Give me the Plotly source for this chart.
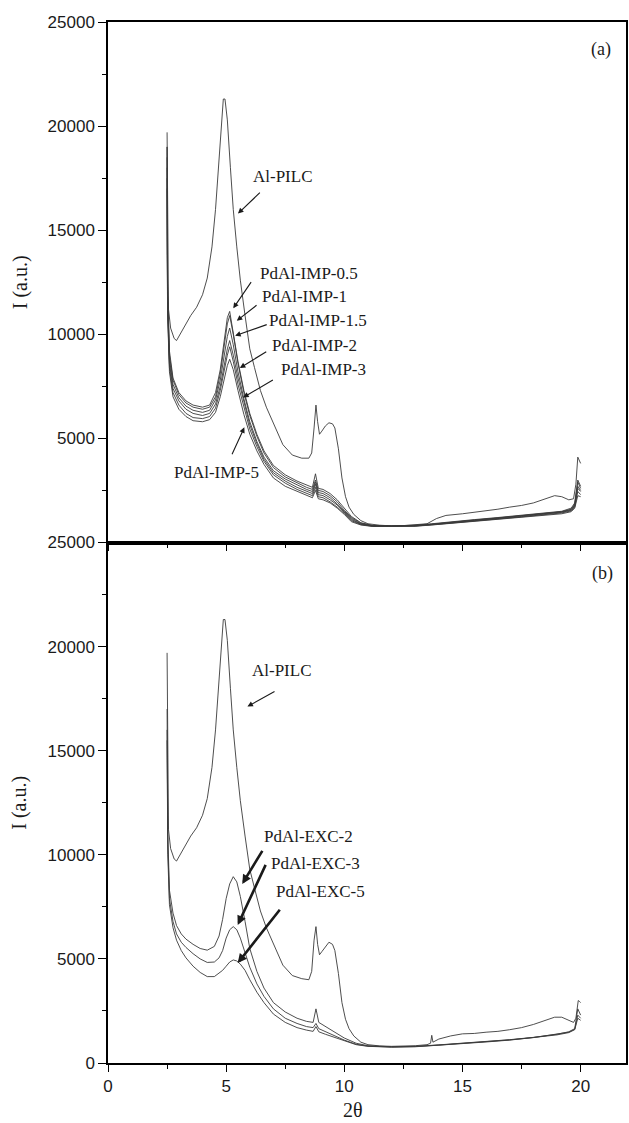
import plotly.graph_objects as go

# ---------------- data ----------------
# top panel (a)
x_pilc_a = [2.5, 2.52, 2.56, 2.65, 2.8, 2.9, 3.0, 3.25, 3.5, 3.75, 4.0, 4.2, 4.4, 4.55, 4.68, 4.8, 4.88, 4.95,
            5.05, 5.18, 5.3, 5.45, 5.6, 5.8, 6.0, 6.2, 6.45, 6.7, 7.0, 7.4, 7.8, 8.2, 8.5, 8.62, 8.72, 8.8,
            8.87, 8.95, 9.05, 9.2, 9.35, 9.5, 9.6, 9.75, 9.9, 10.05, 10.2, 10.4, 10.7, 11.0, 11.5, 12.0,
            12.5, 13.0, 13.5, 13.9, 14.3, 15.0, 15.5, 16.0, 16.5, 17.0, 17.5, 18.0, 18.5, 18.9, 19.2, 19.5,
            19.7, 19.8, 19.88, 19.94, 20.0]
pilc_a = [19700, 14000, 11200, 10300, 9800, 9700, 9900, 10350, 10900, 11300, 11900, 12700, 14200, 16000,
          18200, 20300, 21300, 21300, 20300, 18000, 16000, 14200, 12600, 10900, 9300, 8400, 7300, 6500,
          5750, 4700, 4200, 4050, 4050, 4300, 5500, 6600, 5800, 5200, 5350, 5600, 5750, 5700, 5500, 4500,
          3100, 2200, 1700, 1350, 1050, 900, 830, 800, 810, 840, 900, 1150, 1300, 1380, 1450, 1520, 1600,
          1700, 1780, 1900, 2100, 2250, 2200, 2050, 2100, 2800, 4100, 3900, 3800]

x_imp = [2.5, 2.52, 2.6, 2.75, 3.0, 3.3, 3.6, 4.0, 4.3, 4.55, 4.75, 4.9, 5.05, 5.15, 5.3, 5.5, 5.75, 6.0,
         6.3, 6.6, 7.0, 7.5, 8.0, 8.4, 8.65, 8.78, 8.9, 9.1, 9.4, 9.7, 10.0, 10.3, 10.7, 11.2, 12.0, 13.0,
         13.7, 14.5, 15.5, 16.5, 17.5, 18.5, 19.2, 19.6, 19.75, 19.88, 20.0]
imp_05 = [19000, 12500, 9200, 7900, 7200, 6800, 6600, 6500, 6600, 7200, 8300, 9500, 10800, 11100, 10100,
          8700, 7300, 6200, 5200, 4400, 3700, 3250, 2950, 2750, 2650, 3300, 2600, 2550, 2350, 2050, 1650,
          1250, 950, 820, 800, 830, 900, 1000, 1100, 1200, 1300, 1400, 1500, 1650, 1900, 3000, 2700]
imp_1 = [19000, 12000, 9000, 7800, 7100, 6700, 6500, 6400, 6500, 7000, 8100, 9300, 10500, 10900, 10000,
         8600, 7200, 6100, 5100, 4300, 3600, 3150, 2850, 2650, 2550, 3000, 2500, 2450, 2250, 1950, 1550,
         1200, 930, 810, 790, 820, 880, 980, 1080, 1180, 1280, 1380, 1480, 1600, 1850, 2900, 2600]
imp_15 = [18500, 11800, 8800, 7600, 6950, 6550, 6350, 6250, 6350, 6850, 7800, 8900, 9900, 10300, 9500,
          8200, 6900, 5800, 4850, 4100, 3450, 3050, 2750, 2550, 2450, 2900, 2400, 2350, 2150, 1850, 1500,
          1150, 900, 800, 780, 810, 870, 970, 1070, 1170, 1270, 1370, 1470, 1580, 1800, 2700, 2500]
imp_2 = [18000, 11500, 8600, 7400, 6800, 6400, 6200, 6100, 6200, 6650, 7500, 8500, 9300, 9700, 9000,
         7900, 6700, 5650, 4750, 4000, 3350, 2950, 2650, 2450, 2350, 2800, 2300, 2250, 2050, 1800, 1450,
         1100, 880, 790, 780, 800, 860, 950, 1050, 1150, 1250, 1350, 1450, 1550, 1750, 2600, 2450]
imp_3 = [17500, 11200, 8400, 7200, 6600, 6200, 6000, 5950, 6050, 6450, 7300, 8200, 9000, 9400, 8700,
         7600, 6450, 5450, 4600, 3900, 3250, 2850, 2550, 2350, 2250, 2650, 2200, 2150, 1950, 1700, 1400,
         1050, 860, 780, 770, 790, 850, 940, 1030, 1130, 1230, 1330, 1420, 1520, 1700, 2450, 2300]
imp_5 = [17000, 11000, 8200, 7000, 6400, 6050, 5850, 5800, 5900, 6250, 7000, 7800, 8500, 8800, 8300,
         7300, 6150, 5200, 4400, 3750, 3100, 2700, 2450, 2250, 2150, 2500, 2100, 2050, 1900, 1650, 1350,
         1000, 840, 770, 760, 780, 840, 920, 1000, 1100, 1200, 1300, 1380, 1480, 1650, 2250, 2200]

# bottom panel (b)
x_pilc_b = [2.5, 2.52, 2.56, 2.65, 2.8, 2.9, 3.0, 3.25, 3.5, 3.75, 4.0, 4.2, 4.4, 4.55, 4.68, 4.8, 4.88, 4.95,
            5.05, 5.18, 5.3, 5.45, 5.6, 5.8, 6.0, 6.2, 6.45, 6.7, 7.0, 7.4, 7.8, 8.2, 8.5, 8.62, 8.72, 8.8,
            8.87, 8.95, 9.05, 9.2, 9.35, 9.5, 9.6, 9.75, 9.9, 10.05, 10.2, 10.4, 10.7, 11.0, 11.5, 12.0,
            12.5, 13.0, 13.5, 13.65, 13.7, 13.75, 14.0, 14.5, 15.0, 15.5, 16.0, 16.5, 17.0, 17.5, 18.0,
            18.5, 18.9, 19.2, 19.5, 19.7, 19.8, 19.9, 19.96, 20.0]
pilc_b = [19700, 14000, 11200, 10300, 9800, 9700, 9900, 10350, 10900, 11300, 11900, 12700, 14200, 16000,
          18200, 20300, 21300, 21300, 20300, 18000, 16000, 14200, 12600, 10900, 9300, 8400, 7300, 6500,
          5750, 4700, 4200, 4050, 4000, 4400, 5900, 6550, 5700, 5200, 5350, 5600, 5800, 5700, 5400, 4300,
          2900, 2100, 1650, 1300, 1000, 880, 820, 800, 810, 830, 880, 950, 1330, 1000, 1150, 1300, 1400,
          1420, 1480, 1520, 1600, 1700, 1850, 2050, 2200, 2200, 2050, 1950, 2150, 3000, 2950, 2900]

x_exc = [2.5, 2.53, 2.6, 2.75, 2.9, 3.1, 3.3, 3.6, 3.9, 4.2, 4.5, 4.7, 4.85, 5.0, 5.15, 5.3, 5.45, 5.6, 5.8,
         6.0, 6.3, 6.6, 7.0, 7.5, 8.0, 8.4, 8.68, 8.8, 8.92, 9.2, 9.6, 10.0, 10.5, 11.0, 12.0, 13.0, 14.0,
         15.0, 16.0, 17.0, 18.0, 19.0, 19.5, 19.75, 19.88, 20.0]
exc_2 = [17000, 11000, 8300, 7200, 6600, 6200, 5950, 5700, 5500, 5420, 5600, 6100, 6900, 7900, 8600, 8950,
         8700, 8000, 6800, 5500, 4400, 3600, 2900, 2450, 2150, 2000, 1950, 2600, 1950, 1750, 1450, 1200,
         950, 830, 780, 800, 870, 950, 1030, 1120, 1230, 1380, 1500, 1650, 2600, 2300]
exc_3 = [16000, 10500, 7900, 6800, 6200, 5800, 5550, 5250, 5000, 4830, 4850, 5050, 5400, 6000, 6400, 6550,
         6400, 6000, 5300, 4600, 3800, 3200, 2600, 2150, 1900, 1750, 1700, 1900, 1650, 1500, 1300, 1100,
         900, 810, 770, 790, 860, 940, 1020, 1110, 1220, 1370, 1480, 1620, 2300, 2150]
exc_5 = [15500, 10000, 7600, 6500, 5900, 5400, 5050, 4650, 4350, 4150, 4150, 4300, 4450, 4650, 4850, 4950,
         4900, 4750, 4450, 4000, 3400, 2900, 2350, 1950, 1700, 1580, 1520, 1750, 1500, 1380, 1220, 1050,
         880, 800, 760, 780, 850, 930, 1010, 1100, 1210, 1350, 1460, 1600, 2150, 2050]

y_ticks = [0, 5000, 10000, 15000, 20000, 25000]
y_ticktext_top = ["", "5000", "10000", "15000", "20000", "25000"]
y_ticktext_bottom = ["0", "5000", "10000", "15000", "20000", "25000"]
x_ticks = [0, 5, 10, 15, 20]
x_ticktext = ["0", "5", "10", "15", "20"]

for xs, ys in [(x_pilc_a, pilc_a), (x_pilc_b, pilc_b)] + [(x_imp, s) for s in (imp_05, imp_1, imp_15, imp_2, imp_3, imp_5)] \
        + [(x_exc, s) for s in (exc_2, exc_3, exc_5)]:
    assert len(xs) == len(ys), (len(xs), len(ys))

# ---------------- figure ----------------
LINE = dict(color="#3a3a3a", width=0.9)
fig = go.Figure()
for name, xs, ys in [("Al-PILC", x_pilc_a, pilc_a), ("PdAl-IMP-0.5", x_imp, imp_05), ("PdAl-IMP-1", x_imp, imp_1),
                     ("PdAl-IMP-1.5", x_imp, imp_15), ("PdAl-IMP-2", x_imp, imp_2), ("PdAl-IMP-3", x_imp, imp_3),
                     ("PdAl-IMP-5", x_imp, imp_5)]:
    fig.add_trace(go.Scatter(x=xs, y=ys, mode="lines", line=LINE, name=name, xaxis="x", yaxis="y"))
for name, xs, ys in [("Al-PILC", x_pilc_b, pilc_b), ("PdAl-EXC-2", x_exc, exc_2), ("PdAl-EXC-3", x_exc, exc_3),
                     ("PdAl-EXC-5", x_exc, exc_5)]:
    fig.add_trace(go.Scatter(x=xs, y=ys, mode="lines", line=LINE, name=name, xaxis="x2", yaxis="y2"))

SERIF = "Liberation Serif, Times New Roman, serif"
SANS = "Liberation Sans, Arial, sans-serif"

annotations = []

def label(text, x, y, ax_id, size=17):
    annotations.append(dict(text=text, x=x, y=y, xref="x" + ax_id, yref="y" + ax_id, showarrow=False,
                            font=dict(family=SERIF, size=size, color="#1a1a1a"), xanchor="center", yanchor="middle"))

def arrow(x0, y0, x1, y1, ax_id, width=1.1, size=1.0):
    annotations.append(dict(text="", x=x1, y=y1, ax=x0, ay=y0, xref="x" + ax_id, yref="y" + ax_id,
                            axref="x" + ax_id, ayref="y" + ax_id, showarrow=True, arrowhead=2,
                            arrowsize=size, arrowwidth=width, arrowcolor="#1a1a1a", standoff=0, startstandoff=0))

# top panel labels
label("Al-PILC", 7.4, 17600, "")
arrow(6.49, 16870, 5.5, 15800, "")
label("PdAl-IMP-0.5", 8.5, 12900, "")
arrow(6.1, 12580, 5.3, 11250, "")
label("PdAl-IMP-1", 8.3, 11800, "")
arrow(6.35, 11450, 5.45, 10650, "")
label("PdAl-IMP-1.5", 8.9, 10680, "")
arrow(6.78, 10490, 5.38, 9930, "")
label("PdAl-IMP-2", 8.75, 9450, "")
arrow(6.76, 9210, 5.58, 8380, "")
label("PdAl-IMP-3", 9.1, 8290, "")
arrow(7.04, 7850, 5.72, 6970, "")
label("PdAl-IMP-5", 4.6, 3380, "")
arrow(5.22, 4170, 5.77, 5530, "")
label("(a)", 20.87, 23700, "", size=18)

# bottom panel labels
label("Al-PILC", 7.36, 18860, "2")
arrow(7.11, 17880, 5.9, 17120, "2")
label("PdAl-EXC-2", 8.5, 10890, "2")
arrow(6.57, 10260, 5.68, 8600, "2", width=2.6, size=0.7)
label("PdAl-EXC-3", 8.76, 9560, "2")
arrow(6.7, 9590, 5.49, 6630, "2", width=2.6, size=0.7)
label("PdAl-EXC-5", 9.0, 8220, "2")
arrow(7.32, 7430, 5.49, 4800, "2", width=2.6, size=0.7)
label("(b)", 20.93, 23500, "2", size=18)

# axis titles as annotations
annotations.append(dict(text="2θ", x=10.35, y=0, xref="x2", yref="paper", yshift=-47, showarrow=False,
                        font=dict(family=SERIF, size=20, color="#1a1a1a"), xanchor="center", yanchor="middle"))
for yc in (0.75, 0.25):
    annotations.append(dict(text="I (a.u.)", x=0, y=yc, xref="paper", yref="paper", xshift=-88, textangle=-90,
                            showarrow=False, font=dict(family=SERIF, size=20, color="#1a1a1a"),
                            xanchor="center", yanchor="middle"))

axis_common = dict(showline=True, linecolor="black", linewidth=1.5, mirror=True, showgrid=False, zeroline=False,
                   ticks="outside", tickcolor="black", tickwidth=1.3,
                   tickfont=dict(family=SANS, size=17, color="#1a1a1a"))
minor_x = dict(tickvals=[2.5, 7.5, 12.5, 17.5], ticks="outside", ticklen=4, tickcolor="black", tickwidth=1.3)
minor_y = dict(tickvals=[2500, 7500, 12500, 17500, 22500], ticks="outside", ticklen=4, tickcolor="black", tickwidth=1.3)

fig.update_layout(
    width=629, height=1123,
    margin=dict(l=108, r=1, t=22, b=60),
    paper_bgcolor="white", plot_bgcolor="white",
    showlegend=False,
    annotations=annotations,
    xaxis=dict(axis_common, domain=[0, 1], anchor="y", range=[0, 21.92], tickvals=x_ticks,
               showticklabels=False, ticklen=7, minor=minor_x),
    yaxis=dict(axis_common, domain=[0.5, 1], anchor="x", range=[0, 25000], ticklen=8,
               tickvals=y_ticks, ticktext=y_ticktext_top, minor=minor_y),
    xaxis2=dict(axis_common, domain=[0, 1], anchor="y2", range=[0, 21.92], tickvals=x_ticks,
                ticktext=x_ticktext, ticklen=7, minor=minor_x),
    yaxis2=dict(axis_common, domain=[0, 0.5], anchor="x2", range=[0, 25000], ticklen=8, tickvals=y_ticks,
                ticktext=y_ticktext_bottom, minor=minor_y),
)

fig.write_html("out.html")
